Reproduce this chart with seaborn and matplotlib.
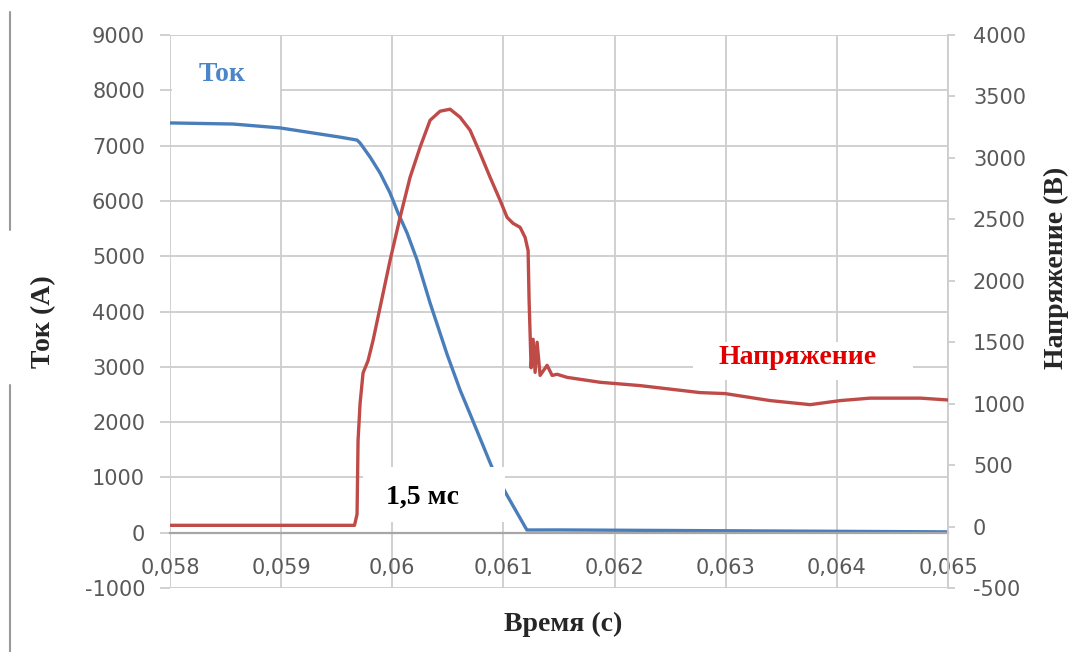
import matplotlib
matplotlib.use("Agg")
import matplotlib.pyplot as plt
from matplotlib.lines import Line2D
from matplotlib.patches import Rectangle
import pandas as pd
import seaborn as sns

# --- data ---
t_current = [0.058, 0.058567, 0.058990, 0.059530, 0.059683, 0.059710, 0.059800,
             0.059890, 0.059980, 0.060052, 0.060133, 0.060223, 0.060340,
             0.060493, 0.060610, 0.060700, 0.060895, 0.061031, 0.061211,
             0.0615, 0.062, 0.063, 0.064, 0.065]
current = [7410, 7390, 7320, 7153, 7100, 7047, 6794,
           6505, 6143, 5781, 5420, 4931, 4154,
           3225, 2580, 2146, 1193, 682, 49,
           50, 45, 35, 25, 15]

t_voltage = [0.058, 0.05966, 0.059683, 0.059692, 0.059710, 0.059737, 0.059782,
             0.059827, 0.059890, 0.059980, 0.060070, 0.060160, 0.060250,
             0.060340, 0.060430, 0.060520, 0.060610, 0.060700, 0.060790,
             0.060880, 0.060970, 0.061033, 0.061087, 0.061150, 0.061195,
             0.061222, 0.061231, 0.061240, 0.061249, 0.061267, 0.061285,
             0.061303, 0.061330, 0.061393, 0.061438, 0.061483, 0.061573,
             0.061870, 0.062230, 0.062770, 0.062995, 0.063400, 0.063760,
             0.064030, 0.064300, 0.064751, 0.065]
voltage = [10, 10, 100, 700, 1000, 1250, 1350,
           1515, 1783, 2166, 2516, 2842, 3087,
           3306, 3380, 3396, 3331, 3225, 3038,
           2842, 2655, 2516, 2467, 2435, 2353,
           2246, 1838, 1569, 1292, 1524, 1255,
           1500, 1230, 1312, 1230, 1239, 1214,
           1174, 1147, 1090, 1082, 1025, 992,
           1025, 1045, 1045, 1030]

x_ticks = [0.058, 0.059, 0.060, 0.061, 0.062, 0.063, 0.064, 0.065]
x_tick_labels = ['0,058', '0,059', '0,06', '0,061', '0,062', '0,063', '0,064', '0,065']
left_ticks = list(range(-1000, 9001, 1000))
right_ticks = list(range(-500, 4001, 500))

df_cur = pd.DataFrame({'t': t_current, 'I': current})
df_volt = pd.DataFrame({'t': t_voltage, 'U': voltage})

sns.set_theme(style='white')
plt.rcParams['font.family'] = ['DejaVu Sans']
plt.rcParams['axes.unicode_minus'] = False

W, H = 1073, 652
fig = plt.figure(figsize=(W / 100, H / 100), dpi=100)
# plot area in pixels: x 170..948, y 35..588
ax = fig.add_axes([170 / W, 1 - 588 / H, 778 / W, 553 / H])

blue = '#4a7ebb'
red = '#be4b48'
grid_c = '#cdcdcd'
tick_c = '#595959'

sns.lineplot(data=df_cur, x='t', y='I', ax=ax, color=blue, lw=2.4,
             sort=False, estimator=None)
ax.set_xlim(0.058, 0.065)
ax.set_ylim(-1000, 9000)
ax.set_xticks(x_ticks)
ax.set_xticklabels(x_tick_labels)
ax.set_yticks(left_ticks)
ax.set_xlabel('')
ax.set_ylabel('')
ax.grid(True, color=grid_c, lw=1.3)
ax.set_axisbelow(True)
for s in ['left', 'top', 'right']:
    ax.spines[s].set_visible(False)
ax.spines['bottom'].set_position(('data', 0))
ax.spines['bottom'].set_color('#a6a6a6')
ax.spines['bottom'].set_linewidth(1.6)
ax.tick_params(axis='x', length=0, pad=18, labelsize=15, labelcolor=tick_c)
ax.tick_params(axis='y', direction='out', length=7, width=1.3, color=grid_c,
               pad=11, labelsize=15, labelcolor=tick_c, left=True)

ax2 = ax.twinx()
sns.lineplot(data=df_volt, x='t', y='U', ax=ax2, color=red, lw=2.4,
             sort=False, estimator=None, zorder=3)
ax2.set_ylim(-500, 4000)
ax2.set_yticks(right_ticks)
ax2.set_xlim(0.058, 0.065)
ax2.set_ylabel('')
ax2.grid(False)
for s in ['left', 'top', 'bottom']:
    ax2.spines[s].set_visible(False)
ax2.spines['right'].set_color(grid_c)
ax2.spines['right'].set_linewidth(1.3)
ax2.tick_params(axis='y', direction='out', length=5, width=1.3, color=grid_c,
                pad=13, labelsize=15, labelcolor=tick_c, right=True)

# white label boxes (axes fraction)
serif = ['Liberation Serif', 'DejaVu Serif']
boxes = [(0.003, 0.877, 0.139, 0.096), (0.248, 0.119, 0.183, 0.0995),
         (0.672, 0.376, 0.283, 0.069)]
for x0, y0, w, h in boxes:
    ax2.add_patch(Rectangle((x0, y0), w, h, transform=ax2.transAxes,
                            facecolor='white', edgecolor='none', zorder=1,
                            clip_on=False))
ax2.text(0.067, 0.929, 'Ток', transform=ax2.transAxes, ha='center', va='center',
         fontsize=20, fontweight='bold', color='#4a86c8', family=serif, zorder=4)
ax2.text(0.324, 0.165, '1,5 мс', transform=ax2.transAxes, ha='center', va='center',
         fontsize=20, fontweight='bold', color='black', family=serif, zorder=4)
ax2.text(0.806, 0.416, 'Напряжение', transform=ax2.transAxes, ha='center',
         va='center', fontsize=20, fontweight='bold', color='#e00000',
         family=serif, zorder=4)

# axis titles
fig.text(44 / W, 1 - 322 / H, 'Ток (А)', rotation=90, ha='center', va='center',
         fontsize=20, fontweight='bold', family=serif)
fig.text(563 / W, 1 - 624 / H, 'Время (с)', ha='center', va='center',
         fontsize=20, fontweight='bold', family=serif)
fig.text(1056 / W, 1 - 268 / H, 'Напряжение (В)', rotation=90, ha='center',
         va='center', fontsize=20, fontweight='bold', family=serif)

# left frame remnant
for y_a, y_b in [(12, 230), (385, 652)]:
    fig.add_artist(Line2D([10 / W, 10 / W], [1 - y_a / H, 1 - y_b / H],
                          transform=fig.transFigure, color='#9a9a9a', lw=1.5))

fig.savefig('out.png', dpi=100)
